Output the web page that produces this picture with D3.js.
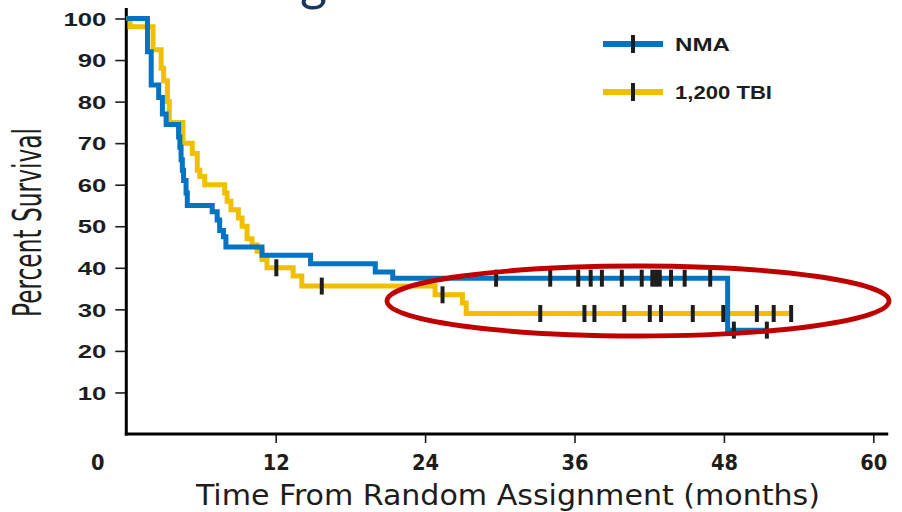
<!DOCTYPE html>
<html>
<head>
<meta charset="utf-8">
<script src="https://cdn.jsdelivr.net/npm/d3@7"></script>
<style>
  html, body { margin: 0; padding: 0; background: #fff; }
  svg { display: block; }
</style>
</head>
<body>
<script>
// Kaplan–Meier overall survival: NMA vs 1,200 TBI conditioning

// NMA arm: event times (months) and survival (%) after each step
const nmaTimes = [0, 1.7, 2.0, 2.6, 2.9, 3.2, 4.2, 4.3, 4.4, 4.5, 4.6, 4.8, 4.9, 6.9, 7.3, 7.5, 7.8, 8.0, 10.9, 14.8, 20.0, 21.4, 48.3];
const nmaSurv  = [100, 92, 84, 81, 77, 74.5, 71.5, 69, 66, 63.5, 61, 58, 55, 53.5, 51.5, 49, 47.5, 45, 43, 41, 39, 37.5, 25];
const nmaEnd = 51.5;
const nmaCensored = [29.7, 34.05, 36.3, 37.3, 38.2, 39.8, 41.4, 42.25, 42.55, 42.85, 43.75, 44.85, 46.9, 48.8, 51.45];

// 1,200 TBI arm
const tbiTimes = [0, 0.3, 2.15, 2.8, 3.0, 3.3, 3.45, 4.55, 5.3, 5.7, 5.9, 6.3, 7.9, 8.1, 8.4, 9.0, 9.3, 9.7, 10.1, 10.5, 10.9, 11.3, 13.4, 14.1, 24.8, 27.0, 27.3];
const tbiSurv  = [100, 98, 92.5, 88, 85, 80, 75, 70, 67.5, 63.5, 62, 60, 58, 56, 54, 52, 50, 47, 45.5, 44, 42, 40, 38, 35.6, 33.5, 31.5, 29];
const tbiEnd = 53.5;
const tbiCensored = [12.05, 15.7, 25.4, 33.25, 36.8, 37.6, 40.0, 42.05, 42.95, 45.5, 47.95, 50.65, 52.0, 53.4];

const xTicks = [0, 12, 24, 36, 48, 60];
const yTicks = [10, 20, 30, 40, 50, 60, 70, 80, 90, 100];
const seriesNames = ["NMA", "1,200 TBI"];
const seriesColors = ["#0474c2", "#f0c000"];

const W = 902, H = 512;
const narrow = "'Liberation Sans Narrow', 'DejaVu Sans Condensed', 'Roboto Condensed', sans-serif";
const heavy = "'Liberation Sans', Arial, Helvetica, sans-serif";
const ink = "#1d1d1b";

const svg = d3.select("body").append("svg")
  .attr("width", W).attr("height", H)
  .attr("viewBox", `0 0 ${W} ${H}`);

const x = d3.scaleLinear().domain([0, 60]).range([126.3, 873.3]);
const y = d3.scaleLinear().domain([0, 100]).range([434, 18.5]);

// slide heading (only its lowest part falls inside the frame)
svg.append("text")
  .attr("x", 300).attr("y", 0)
  .attr("font-family", "Lato, 'Open Sans', sans-serif")
  .attr("font-size", 52)
  .attr("fill", "#17375e")
  .text("g");

function stepPoints(times, surv, end) {
  const pts = times.map((t, i) => [t, surv[i]]);
  pts.push([end, surv[surv.length - 1]]);
  return pts;
}
function survAt(times, surv, t) {
  let s = surv[0];
  for (let i = 0; i < times.length; i++) if (times[i] <= t) s = surv[i];
  return s;
}

// axes
const xAxis = d3.axisBottom(x).tickValues(xTicks).tickSize(9).tickSizeOuter(0).tickFormat(d3.format("d"));
const gx = svg.append("g").attr("transform", `translate(0,${y(0)})`).call(xAxis)
  .attr("font-family", narrow).attr("font-size", 22).attr("font-weight", "bold");
gx.select(".domain").remove();
gx.selectAll(".tick line").attr("stroke", ink).attr("stroke-width", 1.6);
gx.selectAll(".tick").filter(d => d === 0).select("line").remove();
gx.selectAll(".tick text")
  .attr("y", 36).attr("dy", 0).attr("fill", ink)
  .attr("textLength", d => String(d).length * 13.5)
  .attr("lengthAdjust", "spacingAndGlyphs");
gx.selectAll(".tick").filter(d => d === 0).select("text").attr("x", -29);

const yAxis = d3.axisLeft(y).tickValues(yTicks).tickSize(11).tickSizeOuter(0);
const gy = svg.append("g").attr("transform", `translate(${x(0)},0)`).call(yAxis)
  .attr("font-family", heavy).attr("font-size", 18.5).attr("font-weight", "bold");
gy.select(".domain").remove();
gy.selectAll(".tick line").attr("stroke", ink).attr("stroke-width", 1.6);
gy.selectAll(".tick text")
  .attr("x", -20).attr("dy", "0.36em").attr("fill", ink)
  .attr("textLength", d => String(d).length * 14.3)
  .attr("lengthAdjust", "spacingAndGlyphs");

// axis lines
svg.append("line")
  .attr("x1", x(0)).attr("x2", x(0))
  .attr("y1", 8).attr("y2", y(0) + 1.5)
  .attr("stroke", "#000").attr("stroke-width", 3);
svg.append("line")
  .attr("x1", x(0) - 1.5).attr("x2", x(61.2))
  .attr("y1", y(0)).attr("y2", y(0))
  .attr("stroke", "#000").attr("stroke-width", 3);

// axis titles
svg.append("text")
  .attr("x", 508).attr("y", 505)
  .attr("text-anchor", "middle")
  .attr("font-family", narrow).attr("font-size", 29)
  .attr("fill", ink)
  .attr("textLength", 624).attr("lengthAdjust", "spacingAndGlyphs")
  .text("Time From Random Assignment (months)");

svg.append("text")
  .attr("transform", "translate(41,222.5) scale(1.4,1) rotate(-90)")
  .attr("text-anchor", "middle")
  .attr("font-family", narrow).attr("font-size", 28)
  .attr("fill", ink)
  .attr("textLength", 189).attr("lengthAdjust", "spacingAndGlyphs")
  .text("Percent Survival");

// survival curves (TBI underneath, NMA on top)
const line = d3.line()
  .x(d => x(d[0])).y(d => y(d[1]))
  .curve(d3.curveStepAfter);

const arms = [
  { name: seriesNames[1], color: seriesColors[1], times: tbiTimes, surv: tbiSurv, end: tbiEnd, cens: tbiCensored },
  { name: seriesNames[0], color: seriesColors[0], times: nmaTimes, surv: nmaSurv, end: nmaEnd, cens: nmaCensored }
];

arms.forEach(a => {
  svg.append("path")
    .datum(stepPoints(a.times, a.surv, a.end))
    .attr("d", line)
    .attr("fill", "none")
    .attr("stroke", a.color)
    .attr("stroke-width", 5)
    .attr("stroke-linejoin", "miter")
    .attr("stroke-linecap", "butt");
});

// censor ticks
arms.forEach(a => {
  svg.append("g").selectAll("line")
    .data(a.cens)
    .join("line")
    .attr("x1", d => x(d)).attr("x2", d => x(d))
    .attr("y1", d => y(survAt(a.times, a.surv, d)) - 8.5)
    .attr("y2", d => y(survAt(a.times, a.surv, d)) + 8.5)
    .attr("stroke", ink)
    .attr("stroke-width", 4);
});

// legend
const legend = svg.append("g");
const legendRows = [
  { name: seriesNames[0], color: seriesColors[0], cy: 44, width: 55 },
  { name: seriesNames[1], color: seriesColors[1], cy: 92, width: 97 }
];
legendRows.forEach(r => {
  legend.append("line")
    .attr("x1", 603).attr("x2", 663).attr("y1", r.cy).attr("y2", r.cy)
    .attr("stroke", r.color).attr("stroke-width", 6);
  legend.append("line")
    .attr("x1", 633).attr("x2", 633).attr("y1", r.cy - 9).attr("y2", r.cy + 9)
    .attr("stroke", ink).attr("stroke-width", 4);
  legend.append("text")
    .attr("x", 675).attr("y", r.cy + 7)
    .attr("font-family", heavy).attr("font-size", 17.5).attr("font-weight", "bold")
    .attr("fill", ink)
    .attr("textLength", r.width).attr("lengthAdjust", "spacingAndGlyphs")
    .text(r.name);
});

// highlight ring around the late plateau
svg.append("ellipse")
  .attr("cx", 638).attr("cy", 301)
  .attr("rx", 251).attr("ry", 35)
  .attr("fill", "none")
  .attr("stroke", "#c00000")
  .attr("stroke-width", 4.8);
</script>
</body>
</html>
